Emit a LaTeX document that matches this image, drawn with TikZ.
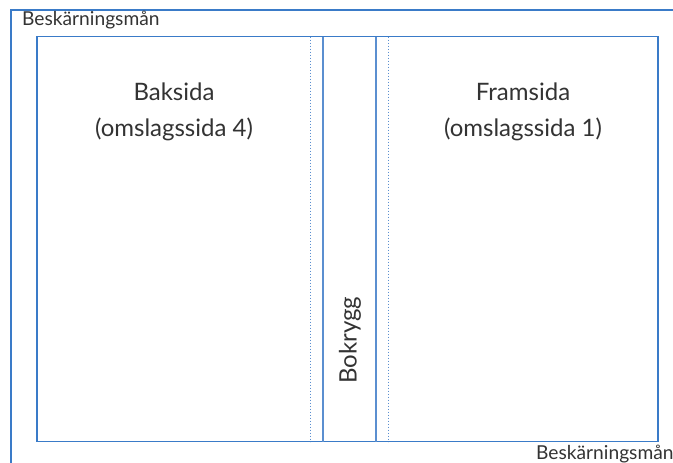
\documentclass[tikz,border=0pt]{standalone}
\usepackage{fontspec}
\setmainfont{Lato}
\definecolor{bl}{HTML}{3A7BC8}
\definecolor{bll}{HTML}{5B8FD0}
\begin{document}
\begin{tikzpicture}[x=1pt,y=-1pt,
  lbl/.style={font=\fontsize{19.2}{22}\selectfont, text=black!80, inner sep=0pt},
  big/.style={font=\fontsize{24}{36}\selectfont, text=black!80, align=center, inner sep=0pt}]
\useasboundingbox (0,0) rectangle (673,463);
\clip (0,0) rectangle (673,463);
\draw[bl, line width=1.1pt] (11,10) rectangle (700,490);
\draw[bl, line width=1.4pt] (37,36.5) rectangle (658,441.5);
\draw[bll, line width=1.2pt] (323,36.5) -- (323,441.5);
\draw[bll, line width=1.2pt] (376,36.5) -- (376,441.5);
\draw[bll, line width=1pt, dotted] (310,36.5) -- (310,441.5);
\draw[bll, line width=1pt, dotted] (388,36.5) -- (388,441.5);
\node[lbl, anchor=base west] (tl) at (22,26) {Beskärningsmån};
\node[lbl, anchor=base west] (br) at (536,459.5) {Beskärningsmån};
\node[big, anchor=base] (bak1) at (174,100) {Baksida};
\node[big, anchor=base] (bak2) at (174,136) {(omslagssida 4)};
\node[big, anchor=base] (fram1) at (523,100) {Framsida};
\node[big, anchor=base] (fram2) at (523,136) {(omslagssida 1)};
\node[big, rotate=90, anchor=center] (rygg) at (350,340) {Bokrygg};
\end{tikzpicture}
\end{document}
